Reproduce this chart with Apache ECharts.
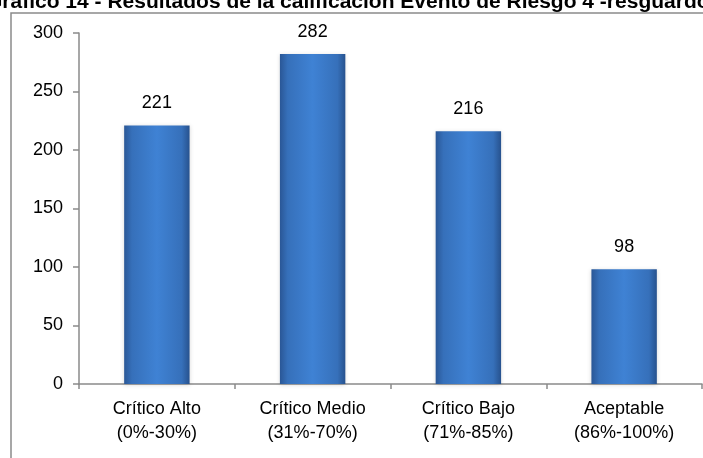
<!DOCTYPE html>
<html>
<head>
<meta charset="utf-8">
<script src="https://cdn.jsdelivr.net/npm/echarts@6/dist/echarts.min.js"></script>
<style>
  html, body { margin: 0; padding: 0; background: #fff; }
  #chart { width: 703px; height: 458px; }
</style>
</head>
<body>
<div id="chart"></div>
<script>
const titleText = 'Gráfico 14 - Resultados de la calificación Evento de Riesgo 4 -resguardo';
const categories = ['Crítico Alto\n(0%-30%)', 'Crítico Medio\n(31%-70%)', 'Crítico Bajo\n(71%-85%)', 'Aceptable\n(86%-100%)'];
const values = [221, 282, 216, 98];
const yTicks = { min: 0, max: 300, interval: 50 };

const chart = echarts.init(document.getElementById('chart'));
const font = '"Liberation Sans", Arial, sans-serif';

const option = {
  backgroundColor: '#fff',
  animation: false,
  graphic: [
    {
      type: 'rect',
      shape: { x: 11, y: 13, width: 900, height: 700 },
      style: { fill: 'none', stroke: '#8a8a8a', lineWidth: 1.5 },
      z: 0
    },
    {
      type: 'text',
      x: -14,
      y: 13,
      style: {
        text: titleText,
        font: 'bold 21px ' + font,
        fill: '#000',
        textVerticalAlign: 'bottom'
      }
    }
  ],
  grid: { left: 79, right: 1, top: 33, bottom: 74 },
  xAxis: {
    type: 'category',
    data: categories,
    axisLine: { lineStyle: { color: '#8a8a8a', width: 1.5 } },
    axisTick: { show: true, length: 5, lineStyle: { color: '#8a8a8a', width: 1.5 } },
    axisLabel: { color: '#000', fontSize: 18, fontFamily: font, lineHeight: 24, margin: 13 }
  },
  yAxis: {
    type: 'value',
    min: yTicks.min,
    max: yTicks.max,
    interval: yTicks.interval,
    axisLine: { show: true, lineStyle: { color: '#8a8a8a', width: 1.5 } },
    axisTick: { show: true, length: 6, lineStyle: { color: '#8a8a8a', width: 1.5 } },
    splitLine: { show: false },
    axisLabel: { color: '#000', fontSize: 18, fontFamily: font, margin: 16 }
  },
  series: [
    {
      type: 'bar',
      data: values,
      barWidth: '42%',
      itemStyle: {
        color: new echarts.graphic.LinearGradient(0, 0, 1, 0, [
          { offset: 0, color: '#2a5796' },
          { offset: 0.12, color: '#3670ba' },
          { offset: 0.5, color: '#3f82d4' },
          { offset: 0.88, color: '#3670ba' },
          { offset: 1, color: '#27528e' }
        ]),
        shadowColor: 'rgba(0,0,0,0.15)',
        shadowBlur: 4,
        shadowOffsetY: 1
      },
      label: {
        show: true,
        position: 'top',
        distance: 13,
        color: '#000',
        fontSize: 18,
        fontFamily: font
      }
    }
  ]
};

chart.setOption(option);
</script>
</body>
</html>
